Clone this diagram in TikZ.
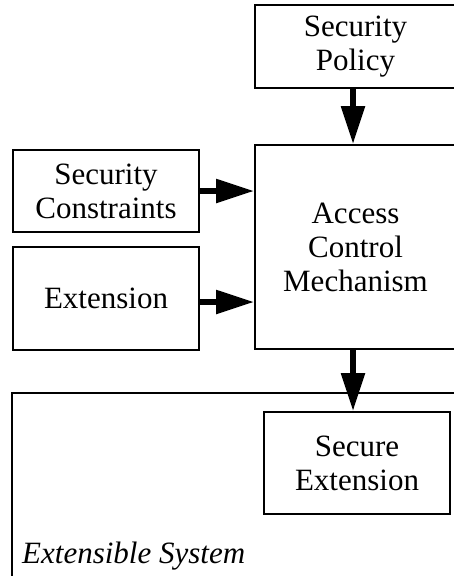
\documentclass[tikz,border=0pt]{standalone}
\usepackage{fontspec}
\setmainfont{Liberation Serif}
\usetikzlibrary{arrows.meta}
\begin{document}
\begin{tikzpicture}[x=1pt,y=-1pt,
  box/.style={draw, line width=2pt, rectangle, inner sep=0pt, align=center,
    font=\fontsize{31}{34}\selectfont},
  flow/.style={line width=5.5pt, -{Triangle[length=38pt,width=23pt]}}]
  \useasboundingbox (0,0) rectangle (454,576);
  \clip (0,0) rectangle (454,576);
  % enclosing system
  \node[box, minimum width=458pt, minimum height=207pt] (sys) at (241,496.5) {};
  \node[anchor=base west, inner sep=0pt, font=\fontsize{31}{34}\selectfont\itshape]
    (syslabel) at (22,563) {Extensible System};
  % components
  \node[box, minimum width=201pt, minimum height=83pt] (sp) at (355.5,46.5)
    {Security\\Policy};
  \node[box, minimum width=201pt, minimum height=204pt] (acm) at (355.5,247)
    {Access\\Control\\Mechanism};
  \node[box, minimum width=186pt, minimum height=82pt] (sc) at (106,191)
    {Security\\Constraints};
  \node[box, minimum width=186pt, minimum height=103pt] (ext) at (106,298.5)
    {Extension};
  \node[box, minimum width=186pt, minimum height=102pt] (se) at (357,463)
    {Secure\\Extension};
  % flows
  \coordinate (extout) at ([yshift=-3.5pt]ext.east);
  \draw[flow] ([xshift=-2.5pt]sp.south) -- ([xshift=-2.5pt]acm.north);
  \draw[flow] (sc.east) -- (acm.west |- sc.east);
  \draw[flow] (extout) -- (acm.west |- extout);
  \draw[flow] ([xshift=-2.5pt]acm.south) -- ([xshift=-4pt]se.north);
\end{tikzpicture}
\end{document}
